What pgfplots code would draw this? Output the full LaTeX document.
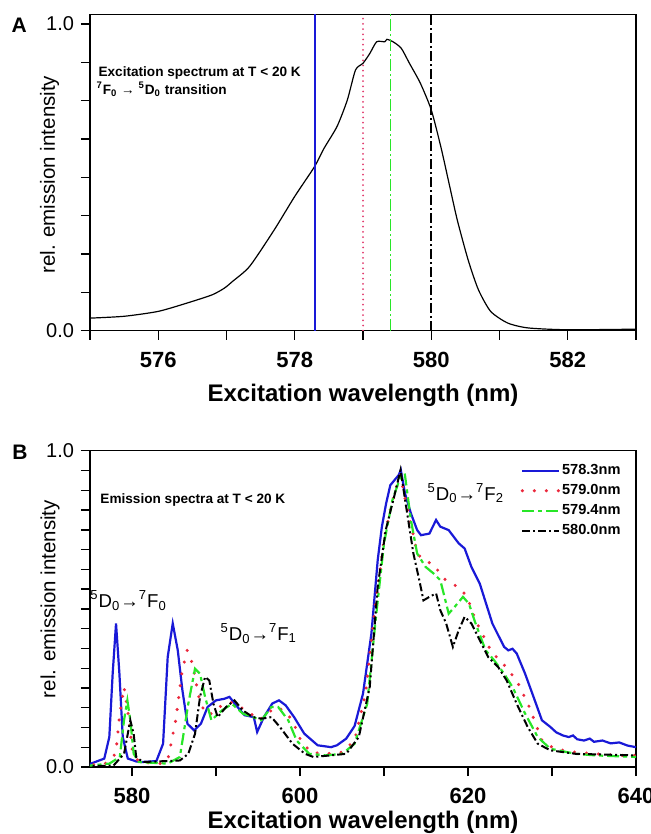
\documentclass[border=0pt]{standalone}
\usepackage{fontspec}
\setmainfont{Liberation Sans}
\usepackage{pgfplots}
\pgfplotsset{compat=1.18}

\definecolor{specblue}{RGB}{25,25,215}
\definecolor{specred}{RGB}{235,40,60}
\definecolor{specpink}{RGB}{225,60,110}
\definecolor{specgreen}{RGB}{40,230,40}

\newcommand{\fs}[1]{\fontsize{#1}{#1}\selectfont}

\pgfplotsset{
  specaxis/.style={
    scale only axis,
    width=273pt, height=158.2pt,
    axis line style={line width=0.7pt},
    tick align=outside, tick pos=left,
    major tick length=4.5pt, minor tick length=4.5pt,
    tick style={line width=0.7pt, black},
    xticklabel style={font=\bfseries\fs{11}, yshift=-2.5pt},
    yticklabel style={font=\fs{10}},
    xlabel style={font=\bfseries\fs{12}},
    ylabel style={font=\fs{10.25}},
  },
}

\begin{document}
\begin{tikzpicture}
\path[use as bounding box] (0pt,0pt) rectangle (325pt,-417pt);

% ---------- panel A ----------
\begin{axis}[specaxis,
  at={(45pt,-7.15pt)}, anchor=north west,
  xmin=575, xmax=583, ymin=0, ymax=1.0316,
  xtick={576,578,580,582}, xticklabels={576,578,580,582},
  minor xtick={575,577,579,581,583},
  ytick={0,0.125,...,1}, yticklabels={0.0,,,,,,,,1.0},
  xlabel={Excitation wavelength (nm)},
  ylabel={rel. emission intensity},
  xlabel style={at={(axis description cs:0.5,0)}, anchor=base, yshift=-35.5pt},
  ylabel style={at={(axis description cs:-0.074,0.493)}, anchor=center},
]
\addplot[black, line width=0.6pt, smooth, tension=0.4] coordinates {
  (575.0,0.041) (575.5,0.047) (576.0,0.063) (576.42,0.090) (576.79,0.117)
  (576.97,0.139) (577.09,0.161) (577.34,0.210) (577.70,0.329) (578.0,0.438)
  (578.29,0.535) (578.43,0.595) (578.62,0.666) (578.77,0.752) (578.89,0.850)
  (579.0,0.872) (579.10,0.904) (579.20,0.942) (579.32,0.942) (579.35,0.950)
  (579.44,0.942) (579.56,0.921) (579.68,0.872) (579.84,0.807) (580.0,0.720)
  (580.14,0.600) (580.26,0.481) (580.38,0.362) (580.54,0.231) (580.69,0.134)
  (580.87,0.063) (581.12,0.025) (581.42,0.009) (582.0,0.003) (583.0,0.005)
};
\addplot[specblue, line width=0.8pt] coordinates {(578.3,0) (578.3,1.0316)};
\addplot[specpink, line width=1pt, line cap=round, dash pattern=on 0pt off 2.6pt] coordinates {(579.0,0) (579.0,1.0316)};
\addplot[specgreen, line width=0.8pt, dash pattern=on 6pt off 1.5pt on 1pt off 1.5pt] coordinates {(579.4,0) (579.4,1.0316)};
\addplot[black, line width=0.8pt, dash pattern=on 5pt off 1.5pt on 1pt off 1.5pt] coordinates {(580.0,0) (580.0,1.0316)};
\node[anchor=base west, font=\bfseries\fs{6.8}, inner sep=0pt] at (axis cs:575.12,0.83) {Excitation spectrum at T < 20 K};
\node[anchor=base west, font=\bfseries\fs{6.8}, inner sep=0pt] at (axis cs:575.09,0.769) {\textsuperscript{7}F\textsubscript{0} → \textsuperscript{5}D\textsubscript{0} transition};
\end{axis}

% ---------- panel B ----------
\begin{axis}[specaxis,
  at={(45pt,-225.35pt)}, anchor=north west,
  xmin=575, xmax=640, ymin=0, ymax=1,
  xtick={580,600,620,640}, xticklabels={580,600,620,640},
  minor xtick={590,610,630},
  ytick={0,0.0625,...,1}, yticklabels={0.0,,,,,,,,,,,,,,,,1.0},
  xlabel={Excitation wavelength (nm)},
  ylabel={rel. emission intensity},
  xlabel style={at={(axis description cs:0.5,0)}, anchor=base, yshift=-30.5pt},
  ylabel style={at={(axis description cs:-0.073,0.531)}, anchor=center},
  legend cell align=left,
  legend style={at={(0.788,0.962)}, anchor=north west, draw=none, fill=none,
    font=\bfseries\fs{7.3}, inner sep=0pt, row sep=2.4pt,
    nodes={inner sep=0.5pt}},
  legend image code/.code={\draw[#1] (0pt,0pt) -- (18.5pt,0pt);},
]
\addplot[specblue, line width=1.1pt] coordinates {
  (574.0,0.003) (575.1,0.011) (576.7,0.027) (577.3,0.095) (577.7,0.296)
  (578.1,0.454) (578.5,0.296) (578.9,0.095) (579.5,0.027) (580.5,0.018)
  (581.1,0.016) (582.9,0.019) (583.7,0.074) (584.25,0.348) (584.85,0.454)
  (585.45,0.369) (586.0,0.243) (586.6,0.137) (587.4,0.116) (588.2,0.137)
  (589.0,0.190) (590.0,0.211) (591.0,0.216) (591.6,0.222) (592.4,0.195)
  (593.4,0.164) (594.5,0.158) (594.9,0.111) (595.7,0.158) (596.7,0.201)
  (597.5,0.211) (598.3,0.195) (599.3,0.158) (600.5,0.106) (602.1,0.069)
  (603.7,0.063) (604.4,0.069) (605.5,0.090) (606.5,0.130) (607.5,0.232)
  (608.5,0.422) (609.25,0.654) (609.75,0.760) (610.25,0.833) (610.75,0.891)
  (611.25,0.907) (611.75,0.923) (612.0,0.939) (612.5,0.865) (613.2,0.802)
  (613.95,0.749) (614.4,0.733) (615.4,0.738) (616.2,0.781) (616.7,0.760)
  (617.7,0.749) (618.9,0.707) (619.6,0.691) (620.4,0.633) (621.4,0.580)
  (621.9,0.538) (622.9,0.454) (623.9,0.401) (624.3,0.380) (624.8,0.369)
  (625.3,0.374) (625.8,0.359) (626.8,0.295) (627.8,0.222) (628.8,0.148)
  (629.8,0.127) (630.5,0.110) (631.3,0.100) (632.0,0.095) (632.5,0.100)
  (633.0,0.088) (633.8,0.084) (634.5,0.090) (635.0,0.080) (636.0,0.084)
  (637.0,0.075) (638.0,0.078) (639.0,0.068) (640.0,0.063)
};
\addlegendentry{578.3nm}
\addplot[specred, line width=1.7pt, line cap=round, dash pattern=on 0pt off 6pt] coordinates {
  (574.0,0.005) (576.8,0.011) (578.06,0.042) (578.55,0.169) (579.05,0.253)
  (579.54,0.169) (580.04,0.053) (580.8,0.016) (583.3,0.011) (584.25,0.021)
  (585.2,0.148) (585.98,0.306) (586.57,0.369) (587.2,0.327) (587.96,0.222)
  (588.7,0.169) (589.45,0.169) (590.4,0.190) (591.67,0.206) (592.9,0.190)
  (594.15,0.169) (595.14,0.148) (596.1,0.169) (597.1,0.190) (598.1,0.179)
  (599.1,0.148) (600.1,0.084) (601.3,0.047) (603.06,0.042) (605.04,0.047)
  (606.5,0.084) (607.8,0.232) (609.0,0.517) (610.0,0.717) (610.73,0.812)
  (611.5,0.886) (611.97,0.923) (612.47,0.854) (613.2,0.770) (613.95,0.675)
  (614.94,0.649) (615.9,0.643) (616.9,0.601) (617.9,0.580) (618.9,0.570)
  (619.9,0.538) (620.9,0.464) (621.9,0.411) (622.9,0.359) (623.85,0.338)
  (624.8,0.306) (625.8,0.274) (627.3,0.190) (628.8,0.084) (630.3,0.058)
  (632.8,0.047) (635.2,0.042) (637.7,0.037) (640.0,0.037)
};
\addlegendentry{579.0nm}
\addplot[specgreen, line width=1.1pt, dash pattern=on 6pt off 2pt on 2pt off 2pt] coordinates {
  (574.0,0.002) (577.3,0.011) (578.55,0.032) (579.05,0.148) (579.45,0.211)
  (579.8,0.148) (580.2,0.042) (580.8,0.016) (584.25,0.011) (585.7,0.032)
  (586.7,0.200) (587.5,0.311) (588.1,0.295) (588.7,0.222) (589.45,0.148)
  (590.7,0.179) (591.9,0.200) (593.2,0.169) (594.4,0.158) (595.4,0.148)
  (596.6,0.190) (597.4,0.190) (598.6,0.148) (599.6,0.084) (601.1,0.042)
  (603.06,0.037) (605.04,0.042) (606.5,0.074) (608.0,0.200) (609.0,0.464)
  (610.0,0.707) (611.0,0.844) (611.97,0.918) (612.47,0.928) (613.2,0.781)
  (613.95,0.675) (614.94,0.633) (615.9,0.612) (616.7,0.591) (617.7,0.485)
  (618.4,0.506) (619.4,0.538) (620.1,0.517) (620.9,0.454) (622.1,0.369)
  (623.1,0.338) (624.3,0.295) (625.3,0.253) (626.8,0.169) (628.3,0.095)
  (629.8,0.058) (632.8,0.042) (635.2,0.037) (640.0,0.032)
};
\addlegendentry{579.4nm}
\addplot[black, line width=1pt, dash pattern=on 4pt off 1.5pt on 1pt off 1.5pt] coordinates {
  (574.0,0.002) (577.8,0.005) (579.05,0.042) (579.8,0.148) (580.2,0.105)
  (580.5,0.032) (581.3,0.016) (585.7,0.021) (586.7,0.042) (587.5,0.105)
  (588.1,0.222) (588.7,0.285) (589.2,0.274) (589.7,0.200) (590.2,0.158)
  (591.2,0.190) (592.2,0.211) (593.2,0.179) (594.4,0.158) (595.4,0.153)
  (596.6,0.158) (597.6,0.127) (599.1,0.074) (600.6,0.042) (601.6,0.032)
  (603.6,0.037) (605.5,0.042) (607.0,0.095) (608.3,0.253) (609.25,0.570)
  (610.2,0.749) (611.2,0.854) (611.97,0.939) (612.7,0.812) (613.5,0.675)
  (614.2,0.591) (614.7,0.527) (615.4,0.538) (616.2,0.549) (616.7,0.496)
  (617.4,0.454) (618.2,0.380) (618.9,0.433) (619.6,0.475) (620.4,0.454)
  (621.4,0.401) (622.4,0.348) (623.6,0.316) (624.6,0.274) (625.8,0.200)
  (627.1,0.127) (628.3,0.074) (629.8,0.053) (632.8,0.042) (640.0,0.037)
};
\addlegendentry{580.0nm}
\node[anchor=base west, font=\bfseries\fs{6.8}, inner sep=0pt] at (axis cs:576.2,0.834) {Emission spectra at T < 20 K};
\node[anchor=base west, font=\fs{9.3}, inner sep=0pt] at (axis cs:575.0,0.505) {\textsuperscript{5}D\textsubscript{0}→\textsuperscript{7}F\textsubscript{0}};
\node[anchor=base west, font=\fs{9.3}, inner sep=0pt] at (axis cs:590.5,0.401) {\textsuperscript{5}D\textsubscript{0}→\textsuperscript{7}F\textsubscript{1}};
\node[anchor=base west, font=\fs{9.3}, inner sep=0pt] at (axis cs:615.15,0.844) {\textsuperscript{5}D\textsubscript{0}→\textsuperscript{7}F\textsubscript{2}};
\end{axis}

\node[font=\bfseries\fs{10.5}] at (9.6pt,-12.5pt) {A};
\node[font=\bfseries\fs{10.5}] at (10pt,-225.9pt) {B};
\end{tikzpicture}
\end{document}
